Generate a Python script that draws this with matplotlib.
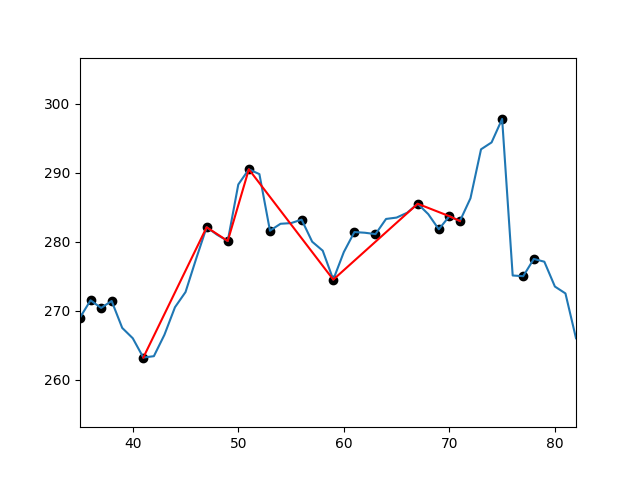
import matplotlib
matplotlib.use("Agg")
import matplotlib.pyplot as plt

x = list(range(35, 83))
y = [269.0, 271.5, 270.4, 271.4, 267.5, 266.0, 263.2, 263.4, 266.5, 270.5,
     272.7, 277.5, 282.1, 281.0, 280.1, 288.3, 290.5, 289.8, 281.6, 282.6,
     282.7, 283.2, 280.0, 278.7, 274.5, 278.5, 281.4, 281.3, 281.1, 283.3,
     283.5, 284.2, 285.5, 284.0, 281.8, 283.7, 283.0, 286.3, 293.4, 294.4,
     297.8, 275.1, 275.0, 277.5, 277.1, 273.5, 272.5, 266.0]
marker_x = [35, 36, 37, 38, 41, 47, 49, 51, 53, 56, 59, 61, 63, 67, 69, 70, 71, 75, 77, 78]
red_x = [41, 47, 49, 51, 59, 67, 70, 71]

d = dict(zip(x, y))
fig, ax = plt.subplots(figsize=(6.4, 4.8), dpi=100)
ax.plot(x, y, color="#1f77b4")
ax.scatter(marker_x, [d[i] for i in marker_x], color="black")
ax.plot(red_x, [d[i] for i in red_x], color="red")
ax.set_xlim(35, 82)
ax.set_ylim(253.1, 306.7)
fig.savefig("out.png")
